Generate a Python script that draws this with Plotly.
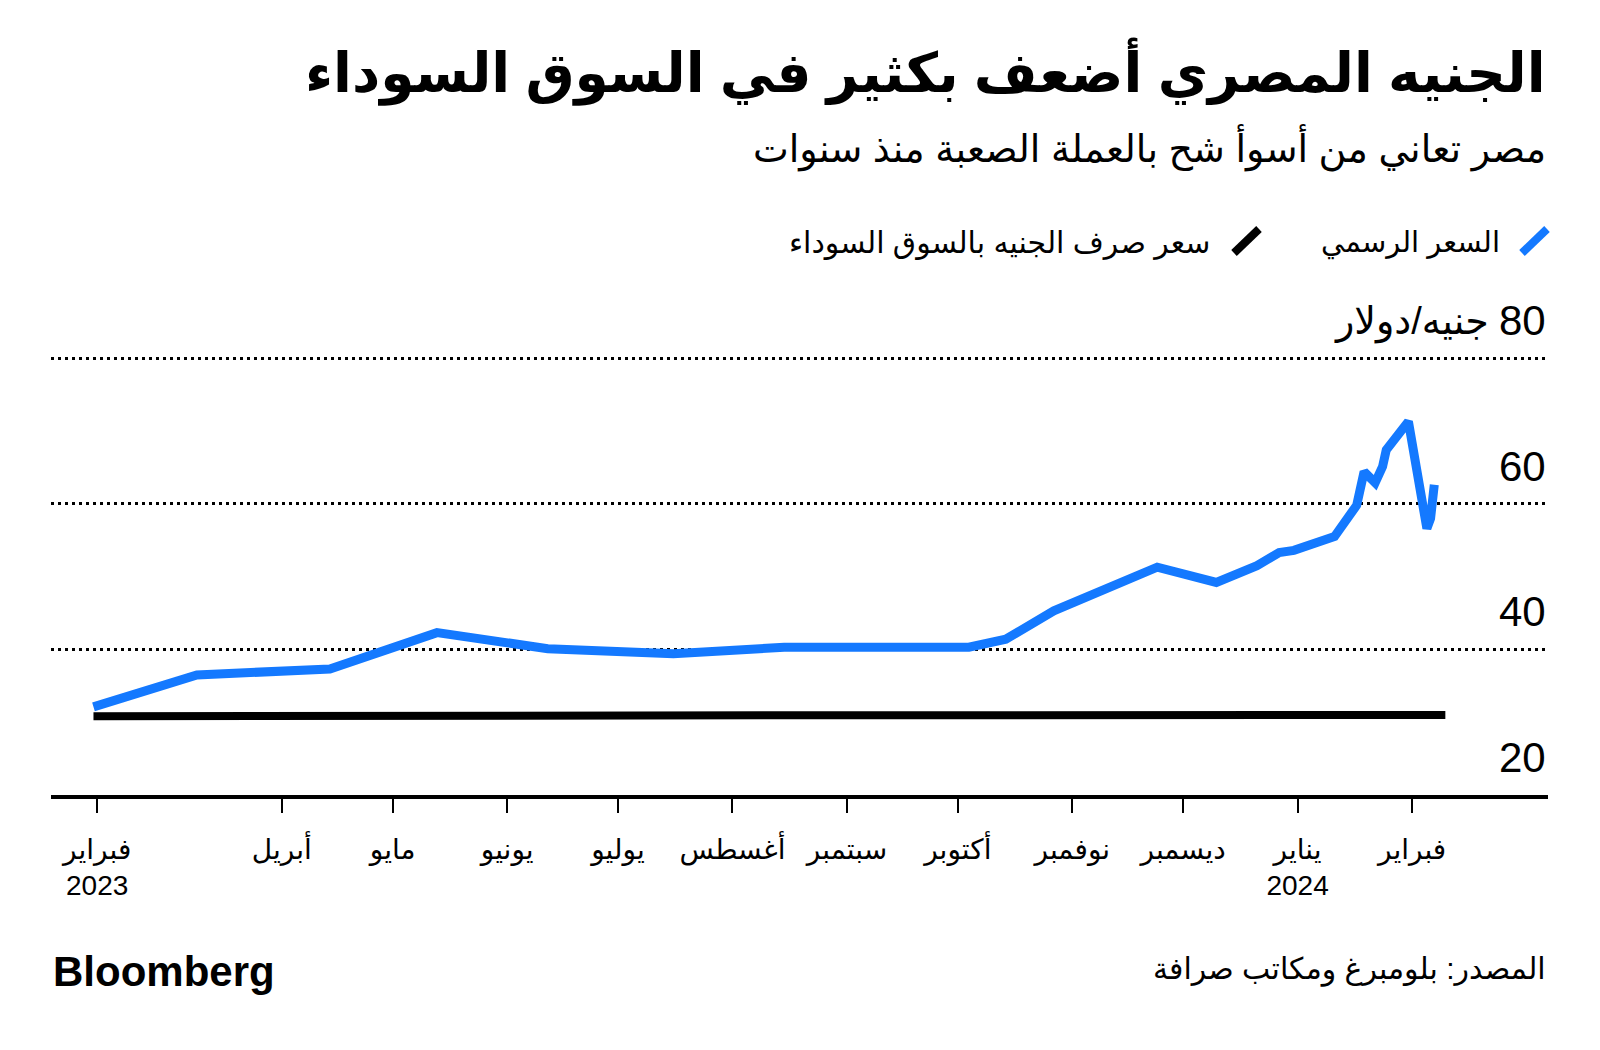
import plotly.graph_objects as go

# ---------------- data ----------------
blue_dates = ["2023-02-09", "2023-03-09", "2023-04-14", "2023-05-13", "2023-06-12",
              "2023-07-16", "2023-08-15", "2023-09-15", "2023-10-04", "2023-10-14",
              "2023-10-27", "2023-11-24", "2023-12-10", "2023-12-21", "2023-12-27",
              "2023-12-31", "2024-01-11", "2024-01-17", "2024-01-19", "2024-01-22",
              "2024-01-24", "2024-01-25", "2024-01-31", "2024-02-05", "2024-02-06",
              "2024-02-07"]
blue_values = [32.1, 36.5, 37.3, 42.3, 40.1,
               39.4, 40.3, 40.3, 40.3, 41.4,
               45.3, 51.3, 49.2, 51.5, 53.3,
               53.6, 55.5, 59.8, 64.4, 62.9,
               65.1, 67.4, 71.3, 56.6, 58.0,
               62.6]

black_dates = ["2023-02-09", "2023-03-15", "2023-06-01", "2023-09-01", "2023-12-01", "2024-02-10"]
black_values = [30.8, 30.9, 30.9, 30.95, 30.95, 31.0]

x_tick_vals = ["2023-02-10", "2023-04-01", "2023-05-01", "2023-06-01", "2023-07-01",
               "2023-08-01", "2023-09-01", "2023-10-01", "2023-11-01", "2023-12-01",
               "2024-01-01", "2024-02-01"]
x_tick_text = ["فبراير<br>2023", "أبريل", "مايو", "يونيو", "يوليو", "أغسطس",
               "سبتمبر", "أكتوبر", "نوفمبر", "ديسمبر", "يناير<br>2024", "فبراير"]

y_tick_vals = [20, 40, 60, 80]
y_tick_text = ["20", "40", "60", "80"]
y_unit = "جنيه/دولار"

series_names = ["السعر الرسمي", "سعر صرف الجنيه بالسوق السوداء"]
title_text = "الجنيه المصري أضعف بكثير في السوق السوداء"
subtitle_text = "مصر تعاني من أسوأ شح بالعملة الصعبة منذ سنوات"
source_text = "المصدر: بلومبرغ ومكاتب صرافة"
brand_text = "Bloomberg"

# ---------------- style ----------------
BLUE = "#1479FF"
BLACK = "#000000"
LATIN = "Liberation Sans, Arial, DejaVu Sans"
ARABIC = "Liberation Sans, DejaVu Sans"

W, H = 1600, 1050
PL, PR, PT, PB = 51, 1548, 356, 795   # plot area pixel box
Y_RANGE = [20, 80.3]


def yp(px):
    return (PB - px) / (PB - PT)


def xp(px):
    return (px - PL) / (PR - PL)


fig = go.Figure()

fig.add_trace(go.Scatter(x=black_dates, y=black_values, mode="lines",
                         line=dict(color=BLACK, width=8), name=series_names[1],
                         showlegend=False, hoverinfo="skip"))
fig.add_trace(go.Scatter(x=blue_dates, y=blue_values, mode="lines",
                         line=dict(color=BLUE, width=9), name=series_names[0],
                         showlegend=False, hoverinfo="skip"))

annotations = []
# title & subtitle
annotations.append(dict(text="<b>" + title_text + "</b>", x=1, xref="paper", xanchor="right",
                        y=yp(71), yref="paper", yanchor="middle", showarrow=False,
                        font=dict(family=ARABIC, size=55, color=BLACK)))
annotations.append(dict(text=subtitle_text, x=1, xref="paper", xanchor="right",
                        y=yp(148), yref="paper", yanchor="middle", showarrow=False,
                        font=dict(family=ARABIC, size=38, color=BLACK)))
# legend texts
annotations.append(dict(text=series_names[0], x=xp(1502), xref="paper", xanchor="right",
                        y=yp(243), yref="paper", yanchor="middle", showarrow=False,
                        font=dict(family=ARABIC, size=29, color=BLACK)))
annotations.append(dict(text=series_names[1], x=xp(1212), xref="paper", xanchor="right",
                        y=yp(243), yref="paper", yanchor="middle", showarrow=False,
                        font=dict(family=ARABIC, size=30, color=BLACK)))
# y tick labels
for v, t in zip(y_tick_vals, y_tick_text):
    annotations.append(dict(text=t, x=1, xref="paper", xanchor="right",
                            y=v, yref="y", yanchor="bottom", yshift=12, showarrow=False,
                            font=dict(family=LATIN, size=42, color=BLACK)))
annotations.append(dict(text=y_unit, x=1, xref="paper", xanchor="right", xshift=-57,
                        y=y_tick_vals[-1], yref="y", yanchor="bottom", yshift=12, showarrow=False,
                        font=dict(family=ARABIC, size=38, color=BLACK)))
# footer
annotations.append(dict(text="<b>" + brand_text + "</b>", x=0, xref="paper", xanchor="left",
                        y=yp(971), yref="paper", yanchor="middle", showarrow=False,
                        font=dict(family=LATIN, size=42, color=BLACK)))
annotations.append(dict(text=source_text, x=1, xref="paper", xanchor="right",
                        y=yp(969), yref="paper", yanchor="middle", showarrow=False,
                        font=dict(family=ARABIC, size=30, color=BLACK)))

shapes = [
    dict(type="line", xref="paper", yref="paper", x0=xp(1522), y0=yp(253), x1=xp(1547), y1=yp(229),
         line=dict(color=BLUE, width=8)),
    dict(type="line", xref="paper", yref="paper", x0=xp(1234), y0=yp(253), x1=xp(1259), y1=yp(229),
         line=dict(color=BLACK, width=8)),
]

fig.update_layout(
    width=W, height=H,
    margin=dict(l=PL, r=W - PR, t=PT, b=H - PB, pad=0),
    paper_bgcolor="white", plot_bgcolor="white",
    showlegend=False,
    annotations=annotations,
    shapes=shapes,
    xaxis=dict(type="date", range=["2023-01-28 12:00", "2024-03-08 19:00"],
               tickvals=x_tick_vals, ticktext=x_tick_text,
               ticks="outside", ticklen=14, tickwidth=2, tickcolor=BLACK,
               showline=True, linewidth=4, linecolor=BLACK,
               showgrid=False, zeroline=False,
               ticklabelstandoff=12,
               tickfont=dict(family=ARABIC, size=28, color=BLACK),
               fixedrange=True),
    yaxis=dict(range=Y_RANGE, tickvals=y_tick_vals, showticklabels=False,
               showgrid=True, gridcolor=BLACK, gridwidth=3, griddash="3px,4px",
               zeroline=False, showline=False, ticks="", fixedrange=True),
)

fig.write_html("out.html", config={"displayModeBar": False},
               post_script="document.body.style.margin='0';document.body.style.overflow='hidden';")
